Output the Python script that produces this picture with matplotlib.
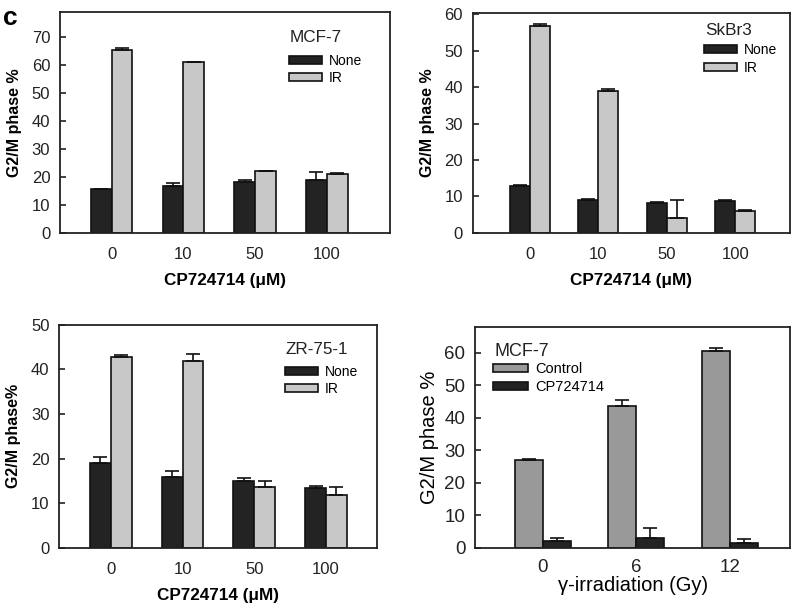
import matplotlib
matplotlib.use("Agg")
import matplotlib.pyplot as plt
import numpy as np

plt.rcParams['font.family'] = ['Liberation Sans', 'DejaVu Sans']

# ---- data ----
doses = ['0', '10', '50', '100']

mcf7_none = [15.8, 16.6, 18.2, 19.0]
mcf7_none_err = [0.0, 1.1, 0.6, 2.9]
mcf7_ir = [65.6, 61.1, 22.1, 21.2]
mcf7_ir_err = [0.5, 0.0, 0.0, 0.4]

skbr3_none = [12.8, 9.0, 8.3, 8.8]
skbr3_none_err = [0.3, 0.3, 0.3, 0.1]
skbr3_ir = [56.8, 38.9, 4.1, 6.0]
skbr3_ir_err = [0.4, 0.5, 4.9, 0.4]

zr_none = [19.0, 16.0, 15.0, 13.5]
zr_none_err = [1.3, 1.3, 0.6, 0.3]
zr_ir = [42.8, 42.0, 13.6, 11.9]
zr_ir_err = [0.4, 1.5, 1.3, 1.7]

gy_doses = ['0', '6', '12']
ctrl = [27.0, 43.8, 60.5]
ctrl_err = [0.3, 1.7, 0.9]
cp = [2.3, 3.2, 1.6]
cp_err = [0.9, 2.9, 1.1]

DARK = '#232323'
LIGHT = '#c8c8c8'
MID = '#999999'

fig = plt.figure(figsize=(8.0, 6.08), dpi=100)


def style_axes(ax, fs):
    for s in ax.spines.values():
        s.set_linewidth(1.3)
        s.set_color('#222222')
    ax.tick_params(axis='y', direction='in', length=4, width=1.2, pad=7,
                   labelsize=fs, colors='#222222')
    ax.tick_params(axis='x', length=0, pad=10, labelsize=fs, colors='#222222')


def bar_pair(ax, v1, e1, c1, l1, v2, e2, c2, l2, width):
    x = np.arange(len(v1))
    ax.bar(x - width / 2, v1, width, color=c1, edgecolor='#111111',
           linewidth=1.2, label=l1, zorder=2)
    ax.bar(x + width / 2, v2, width, color=c2, edgecolor='#111111',
           linewidth=1.2, label=l2, zorder=2)
    ax.errorbar(x - width / 2, v1, yerr=[np.zeros(len(e1)), e1], fmt='none',
                ecolor='#111111', elinewidth=1.2, capsize=5, capthick=1.2,
                zorder=3)
    ax.errorbar(x + width / 2, v2, yerr=[np.zeros(len(e2)), e2], fmt='none',
                ecolor='#111111', elinewidth=1.2, capsize=5, capthick=1.2,
                zorder=3)
    return x


def add_legend(ax, title, x0, y_title, y_rows, fs, tfs):
    # title as plain text, entries as a legend underneath it
    ax.text(x0, y_title, title, transform=ax.transAxes, fontsize=tfs,
            ha='left', va='center', color='#222222')
    leg = ax.legend(loc='center left', bbox_to_anchor=(x0 - 0.004, y_rows),
                    frameon=False, fontsize=fs,
                    handlelength=2.4, handleheight=0.5, handletextpad=0.5,
                    labelspacing=0.25, borderpad=0, borderaxespad=0)
    return leg


# panel 1: MCF-7
ax1 = fig.add_axes([0.075, 0.617, 0.4125, 0.363])
x = bar_pair(ax1, mcf7_none, mcf7_none_err, DARK, 'None',
             mcf7_ir, mcf7_ir_err, LIGHT, 'IR', 0.29)
ax1.set_xlim(-0.72, 3.88)
ax1.set_ylim(0, 79)
ax1.set_yticks(np.arange(0, 71, 10))
ax1.set_xticks(x)
ax1.set_xticklabels(doses)
style_axes(ax1, 12)
ax1.set_ylabel('G2/M phase %', fontsize=11.5, fontweight='bold', labelpad=7)
ax1.set_xlabel('CP724714 (\u03bcM)', fontsize=12.3, fontweight='bold',
               labelpad=8)
add_legend(ax1, 'MCF-7', 0.697, 0.887, 0.74, 10, 12.3)

# panel 2: SkBr3
ax2 = fig.add_axes([0.591, 0.617, 0.3965, 0.362])
x = bar_pair(ax2, skbr3_none, skbr3_none_err, DARK, 'None',
             skbr3_ir, skbr3_ir_err, LIGHT, 'IR', 0.29)
ax2.set_xlim(-0.83, 3.8)
ax2.set_ylim(0, 60.4)
ax2.set_yticks(np.arange(0, 61, 10))
ax2.set_xticks(x)
ax2.set_xticklabels(doses)
style_axes(ax2, 12)
ax2.set_ylabel('G2/M phase %', fontsize=11.5, fontweight='bold', labelpad=7)
ax2.set_xlabel('CP724714 (\u03bcM)', fontsize=12.3, fontweight='bold',
               labelpad=8)
add_legend(ax2, 'SkBr3', 0.732, 0.918, 0.791, 10, 12.3)

# panel 3: ZR-75-1
ax3 = fig.add_axes([0.074, 0.0987, 0.397, 0.367])
x = bar_pair(ax3, zr_none, zr_none_err, DARK, 'None',
             zr_ir, zr_ir_err, LIGHT, 'IR', 0.29)
ax3.set_xlim(-0.72, 3.71)
ax3.set_ylim(0, 50)
ax3.set_yticks(np.arange(0, 51, 10))
ax3.set_xticks(x)
ax3.set_xticklabels(doses)
style_axes(ax3, 12)
ax3.set_ylabel('G2/M phase%', fontsize=11.5, fontweight='bold', labelpad=7)
ax3.set_xlabel('CP724714 (\u03bcM)', fontsize=12.3, fontweight='bold',
               labelpad=8)
add_legend(ax3, 'ZR-75-1', 0.714, 0.888, 0.751, 10, 12.3)

# panel 4: MCF-7 vs gamma irradiation
ax4 = fig.add_axes([0.594, 0.0987, 0.3935, 0.3635])
x = bar_pair(ax4, ctrl, ctrl_err, MID, 'Control',
             cp, cp_err, DARK, 'CP724714', 0.3)
ax4.set_xlim(-0.72, 2.64)
ax4.set_ylim(0, 68)
ax4.set_yticks(np.arange(0, 61, 10))
ax4.set_xticks(x)
ax4.set_xticklabels(gy_doses)
style_axes(ax4, 13.5)
ax4.tick_params(axis='x', pad=8)
ax4.set_ylabel('G2/M phase %', fontsize=14.5, labelpad=4)
ax4.set_xlabel('\u03b3-irradiation (Gy)', fontsize=14.5, labelpad=0)
add_legend(ax4, 'MCF-7', 0.06, 0.887, 0.769, 10.5, 13)

fig.text(0.004, 0.99, 'c', fontsize=19, fontweight='bold', va='top',
         ha='left')

fig.savefig('out.png', dpi=100)
